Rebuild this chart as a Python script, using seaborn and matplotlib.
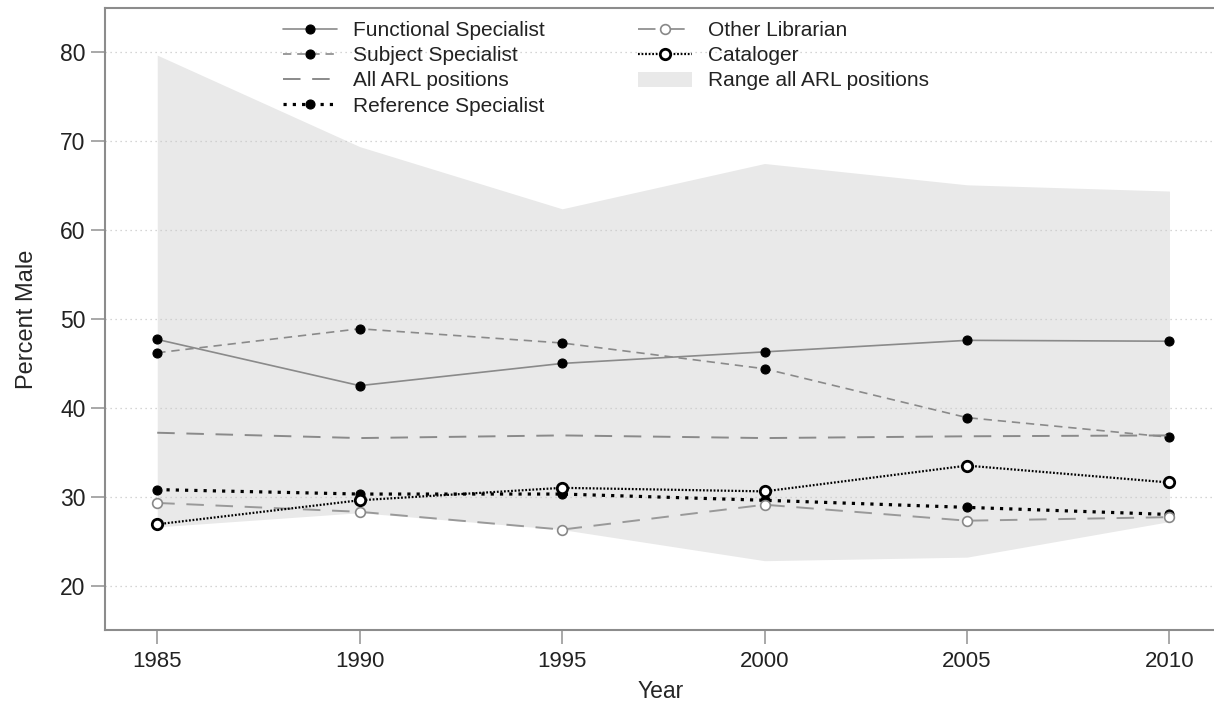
import matplotlib
matplotlib.use("Agg")
import matplotlib.pyplot as plt
import seaborn as sns
import pandas as pd

# Share of men in ARL library positions, by job category
years = [1985, 1990, 1995, 2000, 2005, 2010]
functional = [47.7, 42.5, 45.0, 46.3, 47.6, 47.5]
subject = [46.2, 48.9, 47.3, 44.4, 38.9, 36.7]
all_arl = [37.2, 36.6, 36.9, 36.6, 36.8, 36.9]
reference = [30.8, 30.3, 30.3, 29.6, 28.8, 28.0]
other = [29.3, 28.3, 26.3, 29.1, 27.3, 27.7]
cataloger = [26.9, 29.6, 31.0, 30.6, 33.5, 31.6]
range_high = [79.7, 69.4, 62.4, 67.5, 65.1, 64.4]
range_low = [26.6, 28.2, 26.3, 22.8, 23.2, 27.2]

series_names = ["Functional Specialist", "Subject Specialist", "All ARL positions",
                "Reference Specialist", "Other Librarian", "Cataloger"]
range_name = "Range all ARL positions"
y_ticks = [20, 30, 40, 50, 60, 70, 80]

sns.set_theme(style="white")
plt.rcParams["font.family"] = ["Liberation Sans", "DejaVu Sans"]
plt.rcParams["text.color"] = "#222222"

df = pd.DataFrame({
    "Year": years,
    "functional": functional,
    "subject": subject,
    "all_arl": all_arl,
    "reference": reference,
    "other": other,
    "cataloger": cataloger,
})

fig = plt.figure(figsize=(12.14, 7.07), dpi=100)
ax = fig.add_axes([105 / 1214, 1 - 630 / 707, (1214 - 105) / 1214 + 0.002, (630 - 8) / 707])

gray = "#8a8a8a"
styles = {
    "functional": dict(color=gray, linestyle="-", linewidth=1.2, marker="o", markersize=6.5,
                       markerfacecolor="black", markeredgecolor="black", markeredgewidth=0.8),
    "subject": dict(color=gray, linestyle=(0, (5, 3.5)), linewidth=1.2, marker="o", markersize=6.5,
                    markerfacecolor="black", markeredgecolor="black", markeredgewidth=0.8),
    "all_arl": dict(color=gray, linestyle=(0, (9, 6)), linewidth=1.4),
    "reference": dict(color="black", linestyle=(0, (1.0, 1.9)), linewidth=2.3, marker="o",
                      markersize=6.5, markerfacecolor="black", markeredgecolor="black",
                      markeredgewidth=0.8),
    "other": dict(color="#999999", linestyle=(0, (9, 6)), linewidth=1.4, marker="o", markersize=7,
                  markerfacecolor="white", markeredgecolor="#888888", markeredgewidth=1.2),
    "cataloger": dict(color="black", linestyle=(0, (0.8, 0.8)), linewidth=1.6, marker="o",
                      markersize=7.5, markerfacecolor="white", markeredgecolor="black",
                      markeredgewidth=2.0),
}

keys = ["functional", "subject", "all_arl", "reference", "other", "cataloger"]

ax.fill_between(years, range_low, range_high, color="#e9e9e9", linewidth=0,
                zorder=1, label=range_name)

for key, name in zip(keys, series_names):
    sns.lineplot(data=df, x="Year", y=key, ax=ax, errorbar=None, label=name, zorder=3,
                 **styles[key])

h, l = ax.get_legend_handles_labels()
lookup = dict(zip(l, h))
order = series_names + [range_name]
ax.legend([lookup[n] for n in order], order, ncol=2, frameon=False,
          loc="upper left", bbox_to_anchor=(283 / 1214, 1 - 21 / 707),
          bbox_transform=fig.transFigure, fontsize=15, handlelength=2.6,
          handletextpad=0.75, columnspacing=4.5, labelspacing=0.3, borderpad=0,
          borderaxespad=0)

ax.set_xlim(1983.71, 2011.16)
ax.set_ylim(15, 85)
ax.set_xticks(years)
ax.set_yticks(y_ticks)
ax.set_axisbelow("line")
ax.yaxis.grid(True, color="#c8c8c8", linestyle=(0, (1, 3)), linewidth=0.9)
ax.xaxis.grid(False)

for side in ["left", "bottom", "top", "right"]:
    ax.spines[side].set_color("#8c8c8c")
    ax.spines[side].set_linewidth(1.5)
ax.spines["right"].set_visible(False)

ax.tick_params(axis="both", which="major", length=10, width=1.2, color="#9a9a9a",
               labelsize=16, labelcolor="#222222", direction="out", bottom=True, left=True)
ax.tick_params(axis="y", pad=4, labelsize=16.5)
ax.tick_params(axis="x", pad=5)

ax.set_xlabel("Year", fontsize=16.5, labelpad=6)
ax.set_ylabel("Percent Male", fontsize=17, labelpad=16)

fig.savefig("out.png", dpi=100, facecolor="white")
